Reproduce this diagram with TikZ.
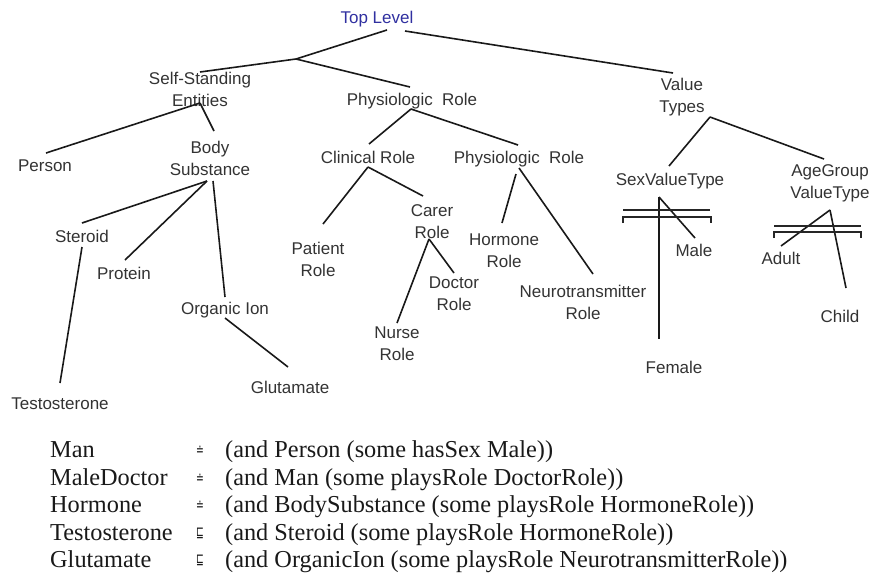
\documentclass[tikz,border=0pt]{standalone}
\usepackage{fontspec}
\usepackage{graphicx}
\newfontfamily\treefont{Liberation Sans}
\newfontfamily\serfont{Liberation Serif}
\newfontfamily\symfont{DejaVu Sans}
\definecolor{toplevel}{RGB}{48,48,160}
\newcommand{\eqsym}{\raisebox{2pt}{\scalebox{0.62}[1]{\symfont\fontsize{15}{15}\selectfont ≐}}}
\newcommand{\subsym}{\raisebox{3pt}{\scalebox{0.62}[1]{\symfont\fontsize{15}{15}\selectfont ⊑}}}
\begin{document}
\begin{tikzpicture}[x=1pt,y=-1pt,
  lbl/.style={font=\treefont\fontsize{17}{22}\selectfont, text=black!80, inner sep=0pt, text height=12.2pt, text depth=0pt},
  lbl2/.style={font=\treefont\fontsize{17}{22}\selectfont, text=black!80, inner sep=0pt, align=center},
  edge/.style={line width=1.6pt, black!90},
  brk/.style={line width=1.2pt, black!85},
  defn/.style={font=\serfont\fontsize{24.3}{27}\selectfont, text=black!90, inner sep=0pt, anchor=base west, text height=17pt, text depth=4pt}]
\useasboundingbox (0,0) rectangle (872,573);

% tree labels
\node[lbl, text=toplevel] (top) at (377,17) {Top Level};
\node[lbl2] (ss) at (200,89) {Self-Standing\\Entities};
\node[lbl] (pr) at (412,99) {Physiologic\ \ Role};
\node[lbl2] (vt) at (682,97) {Value\\Types};
\node[lbl] (person) at (45,165) {Person};
\node[lbl2] (body) at (210,158) {Body\\Substance};
\node[lbl] (clin) at (368,157) {Clinical Role};
\node[lbl] (pr2) at (519,157) {Physiologic\ \ Role};
\node[lbl] (sex) at (670,179) {SexValueType};
\node[lbl2] (age) at (830,183) {AgeGroup\\ValueType};
\node[lbl] (steroid) at (82,236) {Steroid};
\node[lbl] (protein) at (124,273) {Protein};
\node[lbl] (organic) at (225,308) {Organic Ion};
\node[lbl] (testo) at (60,403) {Testosterone};
\node[lbl] (glut) at (290,387) {Glutamate};
\node[lbl2] (patient) at (318,259) {Patient\\Role};
\node[lbl2] (carer) at (432,222) {Carer\\Role};
\node[lbl2] (doctor) at (454,294) {Doctor\\Role};
\node[lbl2] (nurse) at (397,344) {Nurse\\Role};
\node[lbl2] (hormone) at (504,251) {Hormone\\Role};
\node[lbl2] (neuro) at (583,302) {Neurotransmitter\\Role};
\node[lbl] (male) at (694,250) {Male};
\node[lbl] (female) at (674,367) {Female};
\node[lbl] (adult) at (781,258) {Adult};
\node[lbl] (child) at (840,316) {Child};

\coordinate (j) at (296,59);

% connectors
\draw[edge] ([shift={(10,13)}]top.center) -- (j);
\draw[edge] (j) -- ([shift={(0,-17)}]ss.center);
\draw[edge] (j) -- ([shift={(-2,-12)}]pr.center);
\draw[edge] ([shift={(28,14)}]top.center) -- ([shift={(-9,-24)}]vt.center);
\draw[edge] ([shift={(0,14)}]ss.center) -- ([shift={(1,-12)}]person.center);
\draw[edge] ([shift={(0,14)}]ss.center) -- ([shift={(4,-27)}]body.center);
\draw[edge] ([shift={(-1,10)}]pr.center) -- ([shift={(1,-13)}]clin.center);
\draw[edge] ([shift={(-1,10)}]pr.center) -- ([shift={(-1,-12)}]pr2.center);
\draw[edge] ([shift={(28,20)}]vt.center) -- ([shift={(-1,-13)}]sex.center);
\draw[edge] ([shift={(28,20)}]vt.center) -- ([shift={(-6,-24)}]age.center);
\draw[edge] ([shift={(-3,23)}]body.center) -- ([shift={(0,-13)}]steroid.center);
\draw[edge] ([shift={(-3,23)}]body.center) -- ([shift={(1,-13)}]protein.center);
\draw[edge] ([shift={(3,23)}]body.center) -- ([shift={(0,-11)}]organic.center);
\draw[edge] ([shift={(0,11)}]steroid.center) -- ([shift={(0,-20)}]testo.center);
\draw[edge] ([shift={(0,10)}]organic.center) -- ([shift={(-2,-20)}]glut.center);
\draw[edge] ([shift={(0,10)}]clin.center) -- ([shift={(5,-35)}]patient.center);
\draw[edge] ([shift={(0,10)}]clin.center) -- ([shift={(-9,-26)}]carer.center);
\draw[edge] ([shift={(-3,17)}]carer.center) -- ([shift={(0,-21)}]nurse.center);
\draw[edge] ([shift={(-3,17)}]carer.center) -- ([shift={(0,-21)}]doctor.center);
\draw[edge] ([shift={(-3,17)}]pr2.center) -- ([shift={(-2,-28)}]hormone.center);
\draw[edge] ([shift={(0,11)}]pr2.center) -- ([shift={(10,-28)}]neuro.center);
\draw[edge] ([shift={(-11,18)}]sex.center) -- ([shift={(-15,-28)}]female.center);
\draw[edge] ([shift={(-11,18)}]sex.center) -- ([shift={(1,-12)}]male.center);
\draw[edge] ([shift={(0,27)}]age.center) -- ([shift={(0,-12)}]adult.center);
\draw[edge] ([shift={(0,27)}]age.center) -- ([shift={(6,-28)}]child.center);

% disjointness brackets
\draw[brk] ([shift={(-47,31)}]sex.center) -- ([shift={(40,31)}]sex.center);
\draw[brk] ([shift={(-47,44)}]sex.center) -- ([shift={(-47,38)}]sex.center) -- ([shift={(41,38)}]sex.center) -- ([shift={(41,44)}]sex.center);
\draw[brk] ([shift={(-56,43)}]age.center) -- ([shift={(31,43)}]age.center);
\draw[brk] ([shift={(-56,55)}]age.center) -- ([shift={(-56,49)}]age.center) -- ([shift={(31,49)}]age.center) -- ([shift={(31,55)}]age.center);

% definitions
\node[defn] (d1) at (50,457) {\makebox[146pt][l]{Man}\makebox[29pt][l]{\eqsym}(and Person (some hasSex Male))};
\node[defn] (d2) at (50,485) {\makebox[146pt][l]{MaleDoctor}\makebox[29pt][l]{\eqsym}(and Man (some playsRole DoctorRole))};
\node[defn] (d3) at (50,512) {\makebox[146pt][l]{Hormone}\makebox[29pt][l]{\eqsym}(and BodySubstance (some playsRole HormoneRole))};
\node[defn] (d4) at (50,540) {\makebox[146pt][l]{Testosterone}\makebox[29pt][l]{\subsym}(and Steroid (some playsRole HormoneRole))};
\node[defn] (d5) at (50,567) {\makebox[146pt][l]{Glutamate}\makebox[29pt][l]{\subsym}(and OrganicIon (some playsRole NeurotransmitterRole))};
\end{tikzpicture}
\end{document}
